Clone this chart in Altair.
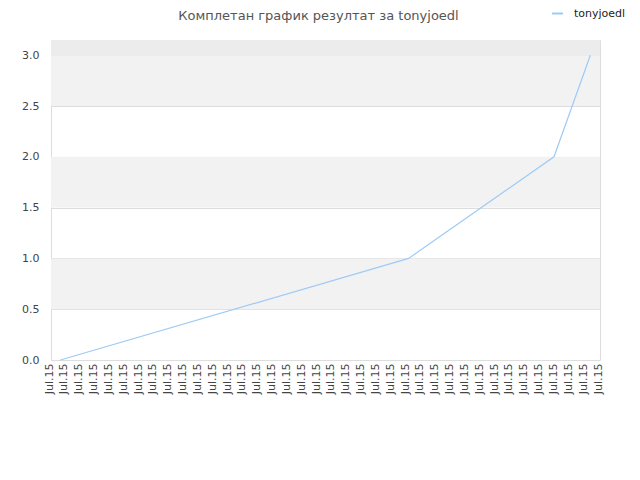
import altair as alt
import pandas as pd

# Data
series_name = "tonyjoedl"
point_x = [0.63, 24.1, 33.9, 36.35]     # position along the time axis (tick units)
point_y = [0.0, 1.0, 2.0, 3.0]
tick_values = list(range(0, 38))        # 38 ticks, all labelled "Jul.15"
tick_label = "Jul.15"
band_lo = [0.5, 1.5, 2.5, 3.0]
band_hi = [1.0, 2.0, 3.0, 3.15]
band_kind = ["even", "even", "even", "top"]
title_text = "Комплетан график резултат за tonyjoedl"

line_df = pd.DataFrame({"x": point_x, "y": point_y, "series": [series_name] * len(point_x)})
band_df = pd.DataFrame({"lo": band_lo, "hi": band_hi, "kind": band_kind})

x_scale = alt.Scale(domain=[0, 37], nice=False, zero=False)
y_scale = alt.Scale(domain=[0, 3.15], nice=False)

bands = alt.Chart(band_df).mark_rect(strokeWidth=0).encode(
    x=alt.value(0),
    x2=alt.value(549),
    y=alt.Y("lo:Q", scale=y_scale),
    y2="hi:Q",
    fill=alt.Fill("kind:N", scale=alt.Scale(domain=["even", "top"], range=["#f2f2f2", "#ececec"]), legend=None),
)

line = alt.Chart(line_df).mark_line(strokeWidth=1.2).encode(
    x=alt.X(
        "x:Q",
        scale=x_scale,
        axis=alt.Axis(
            values=tick_values,
            labelExpr=f"'{tick_label}'",
            labelAngle=270,
            labelAlign="right",
            labelBaseline="middle",
            labelOffset=-2,
            labelPadding=3,
            labelFont="DejaVu Sans",
            labelFontSize=11,
            labelColor="#444444",
            labelOverlap=False,
            labelFlush=False,
            ticks=False,
            grid=False,
            domain=False,
            title=None,
        ),
    ),
    y=alt.Y(
        "y:Q",
        scale=y_scale,
        axis=alt.Axis(
            values=[0, 0.5, 1.0, 1.5, 2.0, 2.5, 3.0],
            format=".1f",
            labelFont="DejaVu Sans",
            labelFontSize=11,
            labelColor="#444444",
            labelPadding=12,
            ticks=False,
            grid=True,
            gridColor="#dddddd",
            gridWidth=1,
            domain=False,
            title=None,
        ),
    ),
    color=alt.Color(
        "series:N",
        scale=alt.Scale(range=["#9ecbf5"]),
        legend=alt.Legend(
            title=None,
            orient="none",
            legendX=500,
            legendY=-33,
            symbolType="stroke",
            symbolSize=120,
            symbolStrokeWidth=2,
            labelOffset=10,
            labelFont="DejaVu Sans",
            labelFontSize=11,
            labelColor="#222222",
            padding=0,
        ),
    ),
)

chart = (
    alt.layer(bands, line)
    .properties(
        width=549,
        height=320,
        autosize=alt.AutoSizeParams(type="none"),
        padding={"left": 43, "top": 32, "right": 32, "bottom": 112},
        title=alt.TitleParams(
            text=title_text,
            font="DejaVu Sans",
            fontSize=13,
            fontWeight="normal",
            color="#555555",
            anchor="middle",
            frame="group",
            dx=-7,
            offset=-16,
        ),
    )
    .configure_view(stroke="#dddddd", strokeWidth=1)
    .configure(background="white")
)

chart.save("out.html", embed_options={"renderer": "svg", "actions": False})
